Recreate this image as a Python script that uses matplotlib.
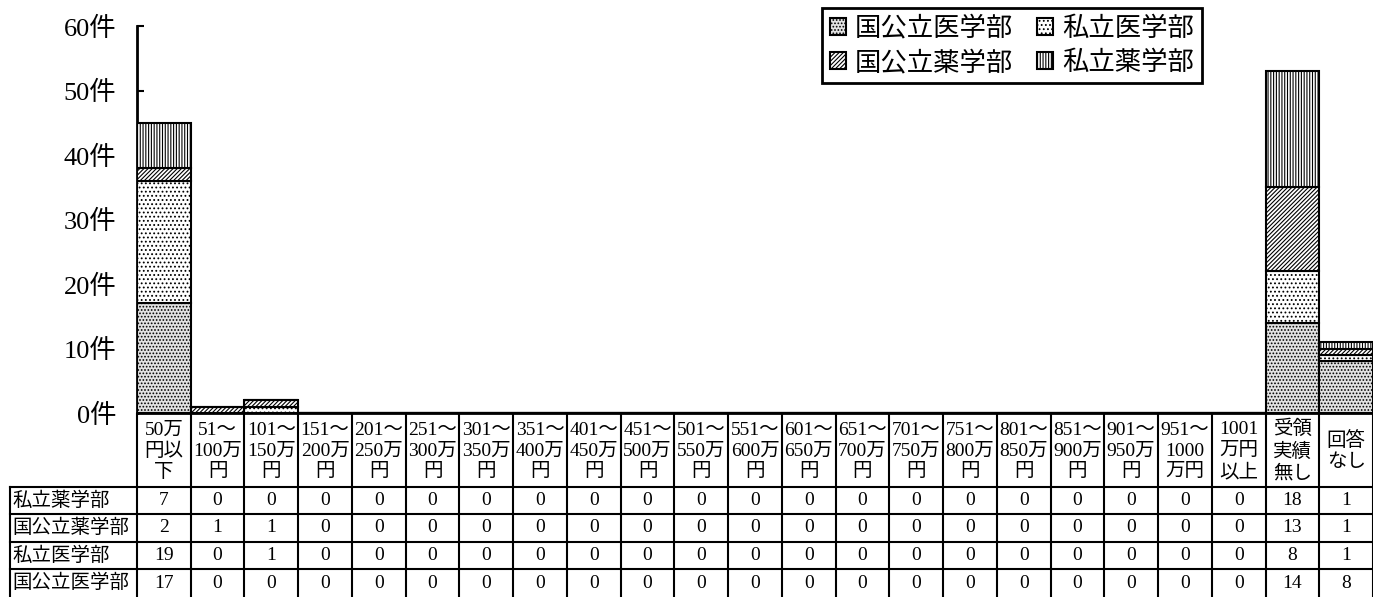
import matplotlib
matplotlib.use("Agg")
import matplotlib.pyplot as plt
import numpy as np

plt.rcParams["font.family"] = ["Liberation Serif", "Noto Sans CJK JP", "DejaVu Sans"]
plt.rcParams["hatch.linewidth"] = 0.8
plt.rcParams["hatch.color"] = "black"

# categories (x axis / table header)
categories = [
    "50万\n円以\n下", "51～\n100万\n円", "101～\n150万\n円", "151～\n200万\n円",
    "201～\n250万\n円", "251～\n300万\n円", "301～\n350万\n円", "351～\n400万\n円",
    "401～\n450万\n円", "451～\n500万\n円", "501～\n550万\n円", "551～\n600万\n円",
    "601～\n650万\n円", "651～\n700万\n円", "701～\n750万\n円", "751～\n800万\n円",
    "801～\n850万\n円", "851～\n900万\n円", "901～\n950万\n円", "951～\n1000\n万円",
    "1001\n万円\n以上", "受領\n実績\n無し", "回答\nなし",
]

kokuritsu_igaku = [17, 0, 0, 0, 0, 0, 0, 0, 0, 0, 0, 0, 0, 0, 0, 0, 0, 0, 0, 0, 0, 14, 8]
shiritsu_igaku = [19, 0, 1, 0, 0, 0, 0, 0, 0, 0, 0, 0, 0, 0, 0, 0, 0, 0, 0, 0, 0, 8, 1]
kokuritsu_yaku = [2, 1, 1, 0, 0, 0, 0, 0, 0, 0, 0, 0, 0, 0, 0, 0, 0, 0, 0, 0, 0, 13, 1]
shiritsu_yaku = [7, 0, 0, 0, 0, 0, 0, 0, 0, 0, 0, 0, 0, 0, 0, 0, 0, 0, 0, 0, 0, 18, 1]

series_names = ["国公立医学部", "私立医学部", "国公立薬学部", "私立薬学部"]
series_values = [kokuritsu_igaku, shiritsu_igaku, kokuritsu_yaku, shiritsu_yaku]
series_face = ["#e2e2e2", "white", "white", "white"]
series_hatch = [".....", "....", "////////", "||||||"]

# table rows, top to bottom
table_rows = ["私立薬学部", "国公立薬学部", "私立医学部", "国公立医学部"]
yticks = [0, 10, 20, 30, 40, 50, 60]

W, H = 1373, 597
fig = plt.figure(figsize=(W / 100, H / 100), dpi=100)

# pixel layout
ax_left, ax_right, ax_top, ax_bottom = 137, 1373, 26, 413
ax = fig.add_axes([ax_left / W, 1 - ax_bottom / H,
                   (ax_right - ax_left) / W, (ax_bottom - ax_top) / H])

n = len(categories)
x = np.arange(n)
bottom = np.zeros(n)
handles = {}
for name, vals, fc, ht in zip(series_names, series_values, series_face, series_hatch):
    vals = np.array(vals, dtype=float)
    b = ax.bar(x, vals, width=1.0, bottom=bottom, facecolor=fc, edgecolor="black",
               hatch=ht, linewidth=1.5, label=name, zorder=3)
    handles[name] = b
    bottom += vals

ax.set_xlim(-0.5, n - 0.5)
ax.set_ylim(0, 60)
ax.set_yticks(yticks)
ax.set_yticklabels([f"{v}件" for v in yticks], fontsize=19)
ax.tick_params(axis="y", direction="in", length=5, width=1.5, pad=15)
ax.set_xticks([])
for s in ["top", "right"]:
    ax.spines[s].set_visible(False)
ax.spines["left"].set_linewidth(2)
ax.spines["bottom"].set_linewidth(2)

order = ["国公立医学部", "国公立薬学部", "私立医学部", "私立薬学部"]
leg = ax.legend([handles[k] for k in order], order, ncol=2, loc="upper left",
                bbox_to_anchor=(822 / W, 1 - 8 / H), bbox_transform=fig.transFigure,
                borderaxespad=0, fontsize=19, fancybox=False, framealpha=1,
                edgecolor="black", handlelength=0.6, handleheight=0.6,
                handletextpad=0.35, columnspacing=0.9, borderpad=0.3,
                labelspacing=0.35)
leg.get_frame().set_linewidth(2)

# data table below the plot, drawn in an overlay axes (x in category units, y in pixels)
unit = (ax_right - ax_left) / n
tab = fig.add_axes([0, 0, 1, 1 - ax_bottom / H])
tab.set_xlim(-0.5 - ax_left / unit, n - 0.5)
tab.set_ylim(H, ax_bottom)
tab.axis("off")

row_edges = [487, 514, 542, 569, 597]
left_px = 10
x_left = -0.5 - (ax_left - left_px) / unit

for i in range(n + 1):
    tab.plot([i - 0.5, i - 0.5], [ax_bottom, H], color="black", lw=1.5)
tab.plot([x_left, x_left], [row_edges[0], H], color="black", lw=1.5)
for y in row_edges[:-1]:
    tab.plot([x_left, n - 0.5], [y, y], color="black", lw=1.5)

for i, lab in enumerate(categories):
    tab.text(i, (ax_bottom + row_edges[0]) / 2 + 1, lab, ha="center", va="center",
             fontsize=14, linespacing=1.3, multialignment="center")

row_data = {"私立薬学部": shiritsu_yaku, "国公立薬学部": kokuritsu_yaku,
            "私立医学部": shiritsu_igaku, "国公立医学部": kokuritsu_igaku}
for r, name in enumerate(table_rows):
    yc = (row_edges[r] + row_edges[r + 1]) / 2
    tab.text(x_left + 0.04, yc, name, ha="left", va="center", fontsize=14)
    for i, v in enumerate(row_data[name]):
        tab.text(i, yc, str(v), ha="center", va="center", fontsize=14)

fig.savefig("out.png", dpi=100)
